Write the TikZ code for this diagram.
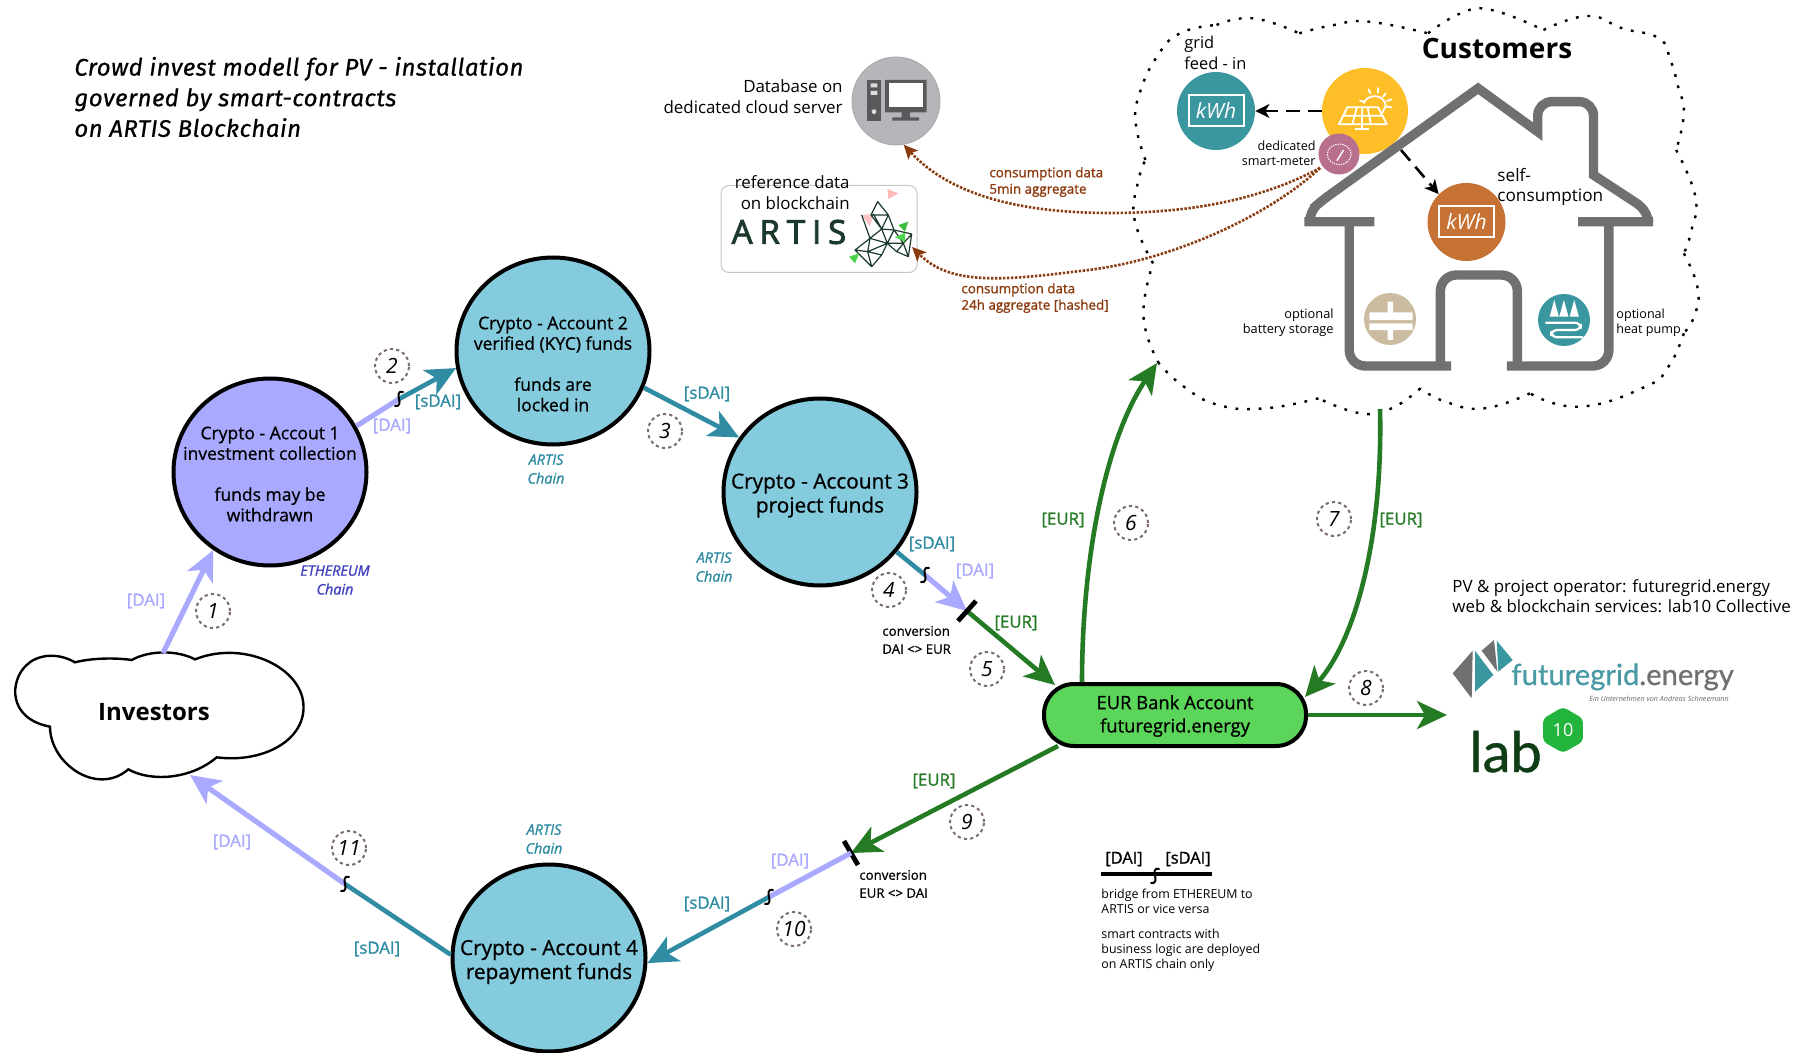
\documentclass[tikz,border=0pt]{standalone}
\usepackage{fontspec}
\setmainfont{Open Sans}
\newfontfamily\osb[FakeBold=0.8]{Open Sans}
\newfontfamily\osbb[FakeBold=1.3]{Open Sans}
\newfontfamily\titlef[LetterSpace=2,FakeBold=0.7]{Fira Sans}
\newfontfamily\fgf[FakeBold=0.8]{Lato}
\newfontfamily\artisf[LetterSpace=21,FakeBold=2.8]{Open Sans}
\usetikzlibrary{arrows.meta,shapes.geometric,calc}
\newcommand\fsz[2]{\fontsize{#1pt}{#2pt}\selectfont}
\definecolor{acct}{HTML}{84CBDD}
\definecolor{lilac}{HTML}{A9A9FF}
\definecolor{tealc}{HTML}{2F8CA3}
\definecolor{kwht}{HTML}{3A979F}
\definecolor{sun}{HTML}{FDBE27}
\definecolor{orangek}{HTML}{C77235}
\definecolor{meterc}{HTML}{B9708D}
\definecolor{batt}{HTML}{CBBBA0}
\definecolor{srv}{HTML}{B5B6BA}
\definecolor{srvd}{HTML}{58595B}
\definecolor{bankg}{HTML}{5BD65B}
\definecolor{arrg}{HTML}{257A24}
\definecolor{brownc}{HTML}{8B3A0E}
\definecolor{housec}{HTML}{6F7072}
\definecolor{numc}{HTML}{7A6A7A}
\definecolor{chainb}{HTML}{4040C0}
\definecolor{fgteal}{HTML}{4A9AA5}
\definecolor{artisd}{HTML}{1B3A2B}
\definecolor{hexg}{HTML}{22B43C}
\definecolor{labd}{HTML}{0F3D15}
\tikzset{
  acctnode/.style={ellipse,draw=black,line width=2pt,fill=acct,minimum width=96.5pt,minimum height=93.5pt,inner sep=0pt},
  accttxt/.style={inner sep=0pt,align=center,text=black},
  arr/.style={-{Stealth[length=15pt,width=14pt,inset=4pt]}},
  lil/.style={draw=lilac,line width=2.6pt},
  tea/.style={draw=tealc,line width=2.3pt},
  gre/.style={draw=arrg,line width=2.3pt},
  barline/.style={draw=black,line width=2.4pt},
  stepn/.style={circle,draw=numc,dash pattern=on 1.6pt off 1.6pt,line width=1pt,minimum size=17pt,inner sep=0pt,font=\fsz{10.5}{12}\itshape},
  lblD/.style={inner sep=0pt,text=lilac,font=\fsz{8.4}{10}\osbb},
  lblS/.style={inner sep=0pt,text=tealc,font=\fsz{8.4}{10}\osbb},
  lblE/.style={inner sep=0pt,text=arrg,font=\fsz{8.4}{10}\osbb},
  chain/.style={inner sep=0pt,align=center,text=tealc,font=\fsz{7.2}{9.4}\osbb\itshape},
  dataarrow/.style={draw=brownc,line width=1.3pt,dash pattern=on 1.2pt off 0.8pt,-{Stealth[length=7pt,width=6.5pt,inset=1.5pt,fill=brownc]}},
  dashblack/.style={draw=black,line width=1.3pt,dash pattern=on 7pt off 4pt,-{Stealth[length=7pt,width=7pt,inset=2pt]}},
  icon/.style={circle,inner sep=0pt},
  kwhbox/.style={draw=white,line width=1pt,text=white,inner sep=0pt,minimum width=27.5pt,minimum height=15.5pt,font=\fsz{10.5}{11}\itshape},
  sqg/.pic={\draw[black,line width=1pt,line cap=round] (4,-7) .. controls (-1,-9) and (-1,-3) .. (0,0) .. controls (1,3) and (1,8) .. (-4,7);},
  dotcloud/.style={draw=black,line width=1.2pt,dash pattern=on 1.4pt off 4.4pt},
  convt/.style={inner sep=0pt,align=left,font=\fsz{6.6}{9}\osb},
  browntxt/.style={inner sep=0pt,align=left,text=brownc,font=\fsz{6.7}{8.2}\osbb},
}
\begin{document}
\begin{tikzpicture}[x=0.5pt,y=-0.5pt]
\useasboundingbox (0,0) rectangle (1808,1053);

% title
\node[anchor=west,inner sep=0pt,align=left,font=\fsz{12}{15.3}\titlef\itshape] (title) at (74,97) {Crowd invest modell for PV - installation\\governed by smart-contracts\\on ARTIS Blockchain};

% investors cloud
\begin{scope}[shift={(0,630)},x=0.16667pt,y=-0.16667pt]
\draw[line width=1.2pt,fill=white] (225,97) .. controls (170,65) and (110,75) .. (80,105) .. controls (30,150) and (20,265) .. (150,290)
 .. controls (150,400) and (290,500) .. (385,418)
 .. controls (450,455) and (570,450) .. (650,382)
 .. controls (790,400) and (920,330) .. (910,220) .. controls (900,110) and (730,30) .. (585,88)
 .. controls (530,60) and (450,60) .. (395,90)
 .. controls (340,82) and (270,85) .. (225,97) -- cycle;
\end{scope}
\node[inner sep=0pt,font=\fsz{12}{14}\bfseries] (inv) at (154,712) {Investors};
\coordinate (invtop) at (163,653);
\coordinate (invbot) at (190,775);

% accounts
\node[acctnode,fill=lilac] (acc1) at (270,472) {};
\node[accttxt,font=\fsz{8.75}{10.25}\osb] (acc1t) at (270,474) {Crypto - Accout 1\\investment collection\\[10.25pt]funds may be\\withdrawn};
\node[acctnode] (acc2) at (553,351) {};
\node[accttxt,font=\fsz{8.75}{10.25}\osb] (acc2t) at (553,364) {Crypto - Account 2\\verified (KYC) funds\\[10.25pt]funds are\\locked in};
\node[acctnode] (acc3) at (820,492) {};
\node[accttxt,font=\fsz{10.4}{12}\osb] (acc3t) at (820,495.5) {Crypto - Account 3\\project funds};
\node[acctnode] (acc4) at (549,958) {};
\node[accttxt,font=\fsz{10.4}{12}\osb] (acc4t) at (549,962) {Crypto - Account 4\\repayment funds};

% chain labels
\node[chain] (ch2) at (546,469) {ARTIS\\Chain};
\node[chain] (ch3) at (714,567) {ARTIS\\Chain};
\node[chain] (ch4) at (544,839) {ARTIS\\Chain};
\node[chain,text=chainb] (ch1) at (335,580) {ETHEREUM\\Chain};

% bank
\node[draw=black,line width=2pt,fill=bankg,rounded corners=15pt,minimum width=131pt,minimum height=31pt,inner sep=0pt] (bank) at (1175,715) {};
\node[inner sep=0pt,align=center,font=\fsz{9.2}{11.6}\osb] (bankt) at (1175,716) {EUR Bank Account\\futuregrid.energy};

% server
\node[icon,fill=srv,draw=black!35,minimum size=44pt] (server) at (896,101) {};
\begin{scope}[shift={(640,30)},x=0.16667pt,y=-0.16667pt]
\fill[srvd] (680,150) rectangle (723,273);
\fill[white,opacity=.8] (692,160) rectangle (712,172) (692,183) rectangle (712,195);
\fill[white,opacity=.8] (702,245) circle[radius=1.2pt];
\fill[srvd] (735,150) rectangle (860,247) (785,247) rectangle (810,262) (757,262) rectangle (837,272);
\fill[white] (747,160) rectangle (848,232);
\end{scope}
\node[anchor=east,inner sep=0pt,align=right,font=\fsz{8.45}{10.4}] (srvtxt) at (843,97) {Database on\\dedicated cloud server};

% artis
\node[draw=black!22,line width=.5pt,rounded corners=4pt,minimum width=98pt,minimum height=43.5pt,inner sep=0pt] (artisbox) at (819,229) {};
\node[anchor=east,inner sep=0pt,align=right,font=\fsz{8.45}{10.4}] (reftxt) at (850,193) {reference data\\on blockchain};
\node[inner sep=0pt,text=artisd,font=\fsz{16.5}{18}\artisf] (artislogo) at (789,232) {ARTIS};
\begin{scope}[shift={(640,30)},x=0.16667pt,y=-0.16667pt]
\fill[pink!80!red!70] (742,477) -- (775,490) -- (745,507) -- cycle;
\fill[pink!70!red!60,opacity=.8] (665,555) -- (700,552) -- (690,590) -- cycle;
\draw[artisd,line width=.6pt,line join=round]
 (713,515) -- (745,555) -- (693,555) -- cycle
 (693,555) -- (725,597) -- (745,555) -- (762,600) -- (725,597) -- (742,640) -- (762,600) -- (790,640) -- (742,640) -- (770,665) -- (790,640) -- (805,680) -- (770,665)
 (790,640) -- (815,612) -- (805,680)
 (762,600) -- (815,612)
 (725,597) -- (690,625) -- (742,640) -- (683,665) -- (690,625) -- (645,660) -- (683,665) -- (695,710) -- (645,660)
 (683,665) -- (725,675) -- (695,710) (725,675) -- (742,640)
 (700,552) -- (725,597) (665,555) -- (690,625);
\fill[green!65!black!75] (775,585) -- (805,575) -- (795,605) -- cycle;
\fill[green!75!black!70] (765,622) -- (795,608) -- (795,635) -- cycle;
\fill[green!75!black!70] (627,680) -- (658,670) -- (645,700) -- cycle;
\end{scope}

% customers: cloud, house, icons
\node[icon,fill=sun,minimum size=43pt] (solar) at (1365,111) {};
\begin{scope}[shift={(1130,0)},x=0.1923pt,y=-0.16667pt]
\draw[dotcloud] plot[smooth,tension=.8] coordinates {(75,1090)(35,950)(60,790)};
\draw[dotcloud] plot[smooth,tension=.8] coordinates {(60,790)(12,660)(20,550)(40,480)};
\draw[dotcloud] plot[smooth,tension=.8] coordinates {(40,480)(15,370)(25,280)(70,170)(130,100)(225,75)};
\draw[dotcloud] plot[smooth,tension=.8] coordinates {(225,75)(320,55)(440,100)};
\draw[dotcloud] plot[smooth,tension=.8] coordinates {(440,100)(530,75)(620,65)(775,100)};
\draw[dotcloud] plot[smooth,tension=.8] coordinates {(775,100)(860,40)(940,30)(1075,90)};
\draw[dotcloud] plot[smooth,tension=.8] coordinates {(1075,90)(1190,48)(1280,85)(1375,115)(1405,180)(1425,260)(1440,340)(1420,450)};
\draw[dotcloud] plot[smooth,tension=.8] coordinates {(1420,450)(1470,590)(1460,690)(1440,760)};
\draw[dotcloud] plot[smooth,tension=.8] coordinates {(1440,760)(1475,860)(1470,940)(1440,1000)};
\draw[dotcloud] plot[smooth,tension=.8] coordinates {(1440,1000)(1400,1100)(1340,1160)(1170,1220)(1040,1180)};
\draw[dotcloud] plot[smooth,tension=.8] coordinates {(1040,1180)(920,1225)(820,1205)(755,1165)};
\draw[dotcloud] plot[smooth,tension=.8] coordinates {(755,1165)(680,1225)(600,1240)(490,1195)};
\draw[dotcloud] plot[smooth,tension=.8] coordinates {(490,1195)(350,1225)(230,1215)(140,1160)(75,1090)};
\draw[housec,line width=4.7pt,line join=miter,miter limit=10]
 (467,660)
 [rounded corners=5pt] -- (467,635) -- (495,605)
 [sharp corners] -- (905,265) -- (1060,395) [rounded corners=7pt] -- (1060,305) -- (1205,305) [sharp corners] -- (1205,525) -- (1320,612)
 [rounded corners=5pt] -- (1348,640) -- (1348,660);
\fill[housec] (453,651) rectangle (635,679) (1165,651) rectangle (1360,679);
\draw[housec,line width=4.7pt,rounded corners=8pt] (570,670) -- (570,1098) -- (835,1098);
\draw[housec,line width=4.7pt,rounded corners=8pt] (807,1098) -- (807,825) -- (1007,825) -- (1007,1098);
\draw[housec,line width=4.7pt,rounded corners=8pt] (980,1098) -- (1245,1098) -- (1245,670);
\end{scope}
\node[icon,fill=kwht,minimum size=39pt] (kwhg) at (1216,111) {};
\node[kwhbox] (kwhgb) at (kwhg) {kWh};
\node[icon,fill=orangek,minimum size=39pt] (kwho) at (1466.5,222) {};
\node[kwhbox] (kwhob) at (kwho) {kWh};
\node[icon,fill=meterc,minimum size=20.5pt] (meter) at (1339,154) {};
\node[icon,fill=batt,minimum size=26pt] (battn) at (1390,319) {};
\node[icon,fill=kwht,minimum size=26pt] (heat) at (1564,320) {};
\begin{scope}[shift={(1130,0)},x=0.1923pt,y=-0.16667pt]
% solar panel
\draw[white,line width=.9pt,line join=round] (565,322) -- (645,322) -- (668,373) -- (543,373) -- cycle
 (555,347) -- (656,347) (590,322) -- (578,373) (618,322) -- (626,373) (604,322) -- (603,373);
\draw[white,line width=1pt] (603,373) -- (603,388) (585,388) -- (622,388);
\draw[white,line width=.9pt] (608,310) .. controls (612,285) and (660,275) .. (665,318) (665,318) -- (655,340);
\draw[white,line width=.9pt,line cap=round] (598,302) -- (607,305) (620,268) -- (625,280) (645,264) -- (645,278) (665,280) -- (658,290) (680,298) -- (668,303) (680,322) -- (668,320);
% meter
\draw[white,line width=.5pt,dash pattern=on .7pt off .5pt] (544,463) ellipse[x radius=31,y radius=31];
\draw[white,line width=.7pt] (538,482) -- (555,450);
% battery
\fill[white] (622,937) rectangle (735,960) (622,970) rectangle (735,990) (670,905) rectangle (684,937) (670,990) rectangle (684,1020);
% heat pump
\fill[white] (1103,900) -- (1091,950) -- (1115,950) -- cycle (1128,900) -- (1116,950) -- (1140,950) -- cycle (1155,900) -- (1143,950) -- (1167,950) -- cycle;
\draw[white,line width=1.1pt,rounded corners=3pt] (1080,968) -- (1172,968) -- (1172,990) -- (1095,990) -- (1095,1012) -- (1178,1012);
\end{scope}
\coordinate (cloudL) at (1157,363);
\coordinate (cloudB) at (1380,409);
\coordinate (solarL) at (1322,111);
\coordinate (solarR) at (1401,150);
\draw[dashblack] (solarL) -- (kwhg.east);
\draw[dashblack] (solarR) -- (kwho.north west);

\node[anchor=west,inner sep=0pt,align=left,font=\fsz{8.2}{10.2}] (gridt) at (1184,53) {grid\\feed - in};
\node[inner sep=0pt,font=\fsz{14}{16}\bfseries] (custt) at (1497,49) {Customers};
\node[anchor=east,inner sep=0pt,align=right,font=\fsz{6.3}{7.6}] (smt) at (1316,153) {dedicated\\smart-meter};
\node[anchor=west,inner sep=0pt,align=left,font=\fsz{8.6}{10.2}] (selft) at (1497,187) {self-\\consumption};
\node[anchor=east,inner sep=0pt,align=right,font=\fsz{6.4}{7.6}] (batt) at (1334,322.5) {optional\\battery storage};
\node[anchor=west,inner sep=0pt,align=left,font=\fsz{6.3}{7.6}] (hpt) at (1616,322.5) {optional\\heat pump};

% data arrows
\coordinate (m1) at (1320,168);
\draw[dataarrow] (m1) .. controls (1260,200) and (1190,213) .. (1110,213) .. controls (1020,213) and (950,195) .. (server.-80);
\coordinate (artisend) at (912,247);
\draw[dataarrow] (m1) .. controls (1270,215) and (1170,262) .. (1080,271) .. controls (1000,281) and (950,285) .. (artisend);
\node[browntxt] (cd1) [anchor=west] at (989,182) {consumption data\\5min aggregate};
\node[browntxt] (cd2) [anchor=west] at (961,298) {consumption data\\24h aggregate [hashed]};

% connectors left
\draw[lil,arr] (invtop) -- (acc1.234);
\coordinate (br1) at (399,399);
\draw[lil] (acc1.28) -- (br1);
\draw[tea,arr] (br1) -- (acc2.190);
\pic at (br1) {sqg};
\draw[tea,arr] (acc2.-22) -- (acc3.146);
\coordinate (br2) at (925,575);
\coordinate (conv1) at (967,611);
\draw[tea] (acc3.-38) -- (br2);
\draw[lil,arr] (br2) -- (conv1);
\pic at (br2) {sqg};
\draw[gre,arr] (conv1) -- ($(bank.north)+(-120,3)$);
\draw[barline] ($(conv1)+(-9,10)$) -- ($(conv1)+(9,-10)$);
\draw[gre,arr] ($(bank.north)+(-93,0)$) .. controls (1082,560) and (1105,440) .. (cloudL);
\draw[gre,arr] (cloudB) .. controls (1383,540) and (1355,640) .. ($(bank.east)+(-3,-18)$);
\coordinate (op) at (1447,715);
\draw[gre,arr] (bank.east) -- (op);
\coordinate (conv2) at (851,853);
\draw[gre,arr] ($(bank.south)+(-117,-2)$) -- (conv2);
\draw[barline] ($(conv2)+(-7,-12)$) -- ($(conv2)+(7,12)$);
\coordinate (br3) at (769,897);
\draw[lil] (conv2) -- (br3);
\draw[tea,arr] (br3) -- (acc4.-3);
\pic at (br3) {sqg};
\coordinate (br4) at (345,884);
\draw[tea] (acc4.178) -- (br4);
\draw[lil,arr] (br4) -- (invbot);
\pic at (br4) {sqg};

% labels
\node[lblD] (l1) at (146,601) {[DAI]};
\node[lblD] (l2) at (392,426) {[DAI]};
\node[lblD] (l3) at (975,571) {[DAI]};
\node[lblD] (l4) at (790,861) {[DAI]};
\node[lblD] (l5) at (232,842) {[DAI]};
\node[lblS] (s1) at (438,402) {[sDAI]};
\node[lblS] (s2) at (707,394) {[sDAI]};
\node[lblS] (s3) at (932,544) {[sDAI]};
\node[lblS] (s4) at (707,904) {[sDAI]};
\node[lblS] (s5) at (377,949) {[sDAI]};
\node[lblE] (e1) at (1016,623) {[EUR]};
\node[lblE] (e2) at (1063,520) {[EUR]};
\node[lblE] (e3) at (1401,520) {[EUR]};
\node[lblE] (e4) at (934,781) {[EUR]};
\node[convt] (c1) [anchor=west] at (882,640) {conversion\\DAI <> EUR};
\node[convt] (c2) [anchor=west] at (859,884) {conversion\\EUR <> DAI};

% step numbers
\node[stepn] (n1) at (213,611) {1};
\node[stepn] (n2) at (392,366) {2};
\node[stepn] (n3) at (665,431) {3};
\node[stepn] (n4) at (889,590) {4};
\node[stepn] (n5) at (987,669) {5};
\node[stepn] (n6) at (1131,523) {6};
\node[stepn] (n7) at (1334,519) {7};
\node[stepn] (n8) at (1366,688) {8};
\node[stepn] (n9) at (967,822) {9};
\node[stepn] (n10) at (794,929) {10};
\node[stepn] (n11) at (349,848) {11};

% legend
\coordinate (lg1) at (1101,874);
\coordinate (lg2) at (1212,874);
\coordinate (lg3) at (1155,876);
\draw[draw=black,line width=1.6pt] (lg1) -- (lg2);
\pic at (lg3) {sqg};
\node[inner sep=0pt,font=\fsz{8.2}{10}\osbb] (ld1) at (1124,859) {[DAI]};
\node[inner sep=0pt,font=\fsz{8.2}{10}\osbb] (ld2) at (1188,859) {[sDAI]};
\node[anchor=north west,inner sep=0pt,align=left,font=\fsz{6.2}{7.5}] (ld3) at (1101,889) {bridge from ETHEREUM to\\ARTIS or vice versa};
\node[anchor=north west,inner sep=0pt,align=left,font=\fsz{6.2}{7.5}] (ld4) at (1101,929) {smart contracts with\\business logic are deployed\\on ARTIS chain only};

% operators
\node[anchor=west,inner sep=0pt,align=left,font=\fsz{8.45}{10.2}] (opt) at (1452,596) {PV \& project operator: futuregrid.energy\\web \& blockchain services: lab10 Collective};
\begin{scope}[shift={(1420,560)},x=0.16667pt,y=-0.16667pt]
\fill[housec] (98,340) -- (158,272) -- (155,415) -- cycle;
\fill[kwht] (165,272) -- (220,345) -- (165,395) -- cycle;
\fill[housec] (185,272) -- (222,240) -- (232,335) -- cycle;
\fill[kwht] (230,242) -- (278,300) -- (235,335) -- cycle;
\end{scope}
\node[anchor=base west,inner sep=0pt,font=\fsz{14.6}{18}\fgf] (fgl) at (1511,685) {\textcolor{fgteal}{futuregrid}\textcolor{housec}{.energy}};
\node[anchor=base west,inner sep=0pt,text=black!60,font=\fsz{3.6}{4}\itshape] (fgs) at (1589,701) {Ein Unternehmen von Andreas Schneemann};
\node[anchor=base west,inner sep=0pt,text=labd,font=\fsz{28}{30}\fgf] (lab) at (1469,772) {lab};
\node[regular polygon,regular polygon sides=6,regular polygon rotate=30,fill=hexg,rounded corners=2pt,minimum size=23pt,inner sep=0pt,text=white,font=\fsz{9}{10}] (hex) at (1563,730) {10};
\end{tikzpicture}
\end{document}
